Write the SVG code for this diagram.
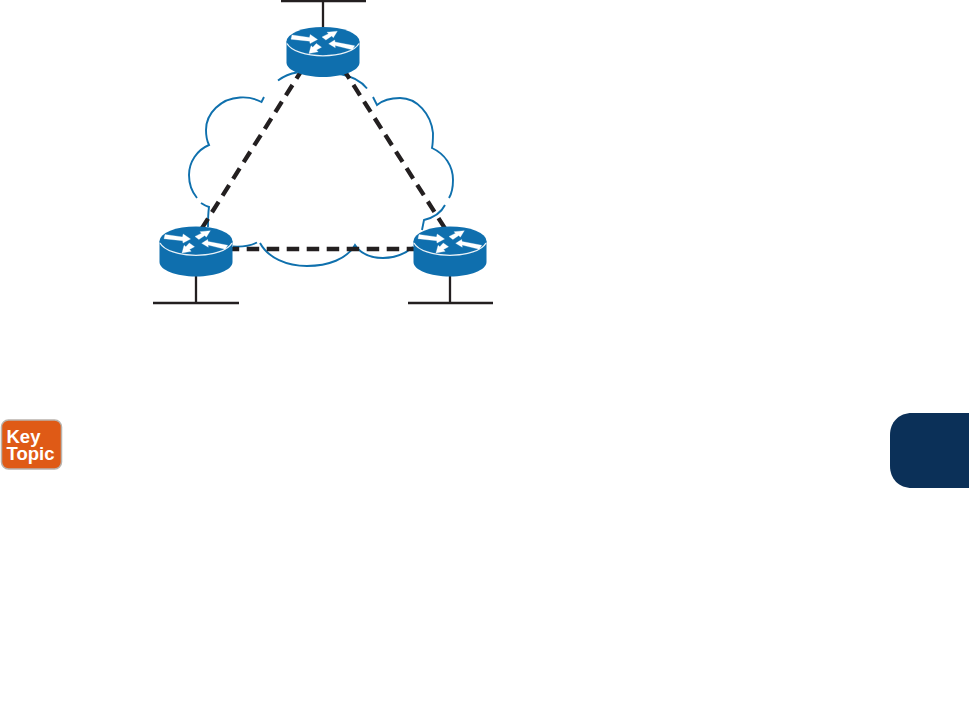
<svg xmlns="http://www.w3.org/2000/svg" width="969" height="707" viewBox="0 0 969 707">
<style>
.cloud{fill:none;stroke:#0f70ad;stroke-width:1.9}
.wire{fill:none;stroke:#231f20;stroke-width:2.300}
.dash{fill:none;stroke:#231f20;stroke-width:4.300;stroke-dasharray:12.300 7.450}
.hdash{fill:none;stroke:#231f20;stroke-width:4.300;stroke-dasharray:12.500 7.500}
.kt{font-family:"Liberation Sans",Arial,sans-serif;font-weight:700;font-size:18.500px;fill:#fff}
</style>
<defs>
<g id="router">
<path d="M-36.500 0V21C-36.500 29 -20 35.500 0 35.500S36.500 29 36.500 21V0Z" fill="#0f6fae"/>
<ellipse cx="0" cy="0" rx="36.500" ry="14.500" fill="#0f6fae"/>
<path d="M-36 2C-32 9.500 -17 14.300 0 14.300S32 9.500 36 2" fill="none" stroke="#e8f1f7" stroke-width="1.300"/>
<path d="M-31 -6.500L-13.500 -4L-12.800 -7L-5.500 -2L-13 2L-13.300 -0.300L-32 -2.300Z M4 -9.300L14.300 -10.300L10.300 -3.800L8.800 -5.600L2.900 -1.500L-1 -4.500L5.500 -7.800Z M5.700 2.300L11.700 -1.500L12 0.500L31.700 4.300L29.300 8.300L12.100 4L12.300 6.200Z M-14 12L-11.900 4.300L-10.200 5.800L-6.700 2L-1.500 5.700L-6.500 8.500L-4.800 10.300Z" fill="#fff" stroke="#fff" stroke-width="0.300"/>
</g>
</defs>
<g id="clouds">
<path class="cloud" d="M278 80.500C284 76 290 73.500 297 72.500"/>
<path class="cloud" d="M340 74C351 76 361 81 367 88.500"/>
<path class="cloud" d="M264 97L261.500 102C255 98.500 247 97 240 97.500C221 98.500 206 113 206 130C206 136 207 141 209 145C197 150 189 162 189 175C189 184 192 192 197 198"/>
<path class="cloud" d="M201 203C204 205 206 206 209 207C208 214 208 220 208 227"/>
<path class="cloud" d="M233 246.500C241 247 250 246 257 242.500"/>
<path class="cloud" d="M260 243C268 258 287 266 307 266C328 266 347 259 355 245L358 249C364 255 373 258 383 258C395 258 405 254 413 247"/>
<path class="cloud" d="M422 230L424 220C432 218 441 213 445 205"/>
<path class="cloud" d="M449 198C452 193 453 187 453 180C453 166 445 154 432 148C433 143 433 138 433 133C431 114 417 98 400 98C391 98 383 100 377 105L373 97"/>
</g>
<g id="connectors">
<path class="wire" d="M281 1H366M323 0V27"/>
<path class="wire" d="M153 303H239M196 276V303"/>
<path class="wire" d="M408 303H493M450 276V303"/>
<path class="dash" d="M303 68.300L201.800 228.400"/>
<path class="dash" d="M342.800 68.300L445 228.400"/>
<path class="hdash" d="M226.700 249H414"/>
</g>
<g id="router-top"><use href="#router" x="323" y="41.500"/></g>
<g id="router-left"><use href="#router" x="196" y="241"/></g>
<g id="router-right"><use href="#router" x="450" y="241"/></g>
<g id="key-topic">
<rect x="1.500" y="420" width="60" height="49" rx="7" fill="#df5a16" stroke="#b9b3ad" stroke-width="1.500"/>
<text class="kt"><tspan x="6.500" y="443">Key</tspan><tspan x="6.500" y="459.500">Topic</tspan></text>
</g>
<g id="tab"><path d="M969 413H912C899 413 890 422 890 435V466C890 479 899 488 912 488H969Z" fill="#0b3058"/></g>
</svg>
